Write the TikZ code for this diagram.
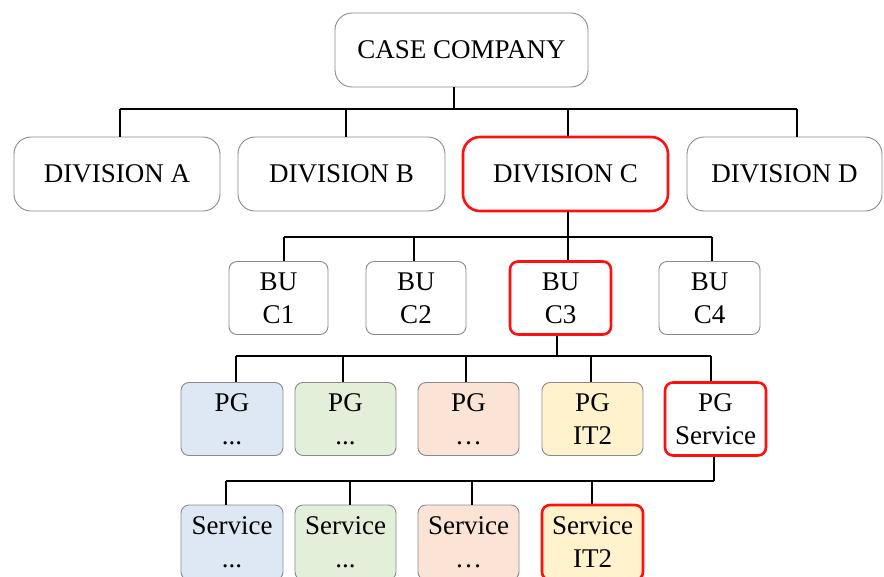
\documentclass[tikz,border=0pt]{standalone}
\usepackage{fontspec}
\setmainfont{Liberation Serif}
\begin{document}
\definecolor{boxgray}{HTML}{8A8A8A}
\definecolor{hlred}{HTML}{FF1010}
\definecolor{fblue}{HTML}{DEE8F4}
\definecolor{fgreen}{HTML}{E3EFD9}
\definecolor{fpeach}{HTML}{FBE4D5}
\definecolor{fyellow}{HTML}{FFF2CC}
\begin{tikzpicture}[x=1pt,y=-1pt,
  every node/.style={font=\fontsize{27}{33}\selectfont, align=center, inner sep=0pt},
  box/.style={draw=boxgray, line width=0.9pt, fill=white, rounded corners=#1},
  box/.default=8pt,
  big/.style={box=17pt, minimum height=74pt},
  small/.style={box=8pt, minimum height=73pt},
  hl/.style={draw=hlred, line width=2.6pt},
  link/.style={line width=2pt, black}]
\useasboundingbox (0,0) rectangle (884,576);

% top level
\node[big, minimum width=253pt] (top) at (461.5,50) {CASE COMPANY};

% divisions
\node[big, minimum width=206pt] (divA) at (117,174) {DIVISION A};
\node[big, minimum width=207pt] (divB) at (341.5,174) {DIVISION B};
\node[big, hl, minimum width=205pt] (divC) at (565.5,174) {DIVISION C};
\node[big, minimum width=195pt] (divD) at (784.5,174) {DIVISION D};

% business units
\node[small, minimum width=99pt] (bu1) at (278.5,298) {BU\\C1};
\node[small, minimum width=100pt] (bu2) at (416,298) {BU\\C2};
\node[small, hl, minimum width=101pt] (bu3) at (560.5,298) {BU\\C3};
\node[small, minimum width=101pt] (bu4) at (709.5,298) {BU\\C4};

% product groups
\node[small, fill=fblue, minimum width=102pt] (pg1) at (232,419) {PG\\...};
\node[small, fill=fgreen, minimum width=101pt] (pg2) at (345.5,419) {PG\\...};
\node[small, fill=fpeach, minimum width=101pt] (pg3) at (468.5,419) {PG\\…};
\node[small, fill=fyellow, minimum width=101pt] (pg4) at (592.5,419) {PG\\IT2};
\node[small, hl, minimum width=101pt] (pg5) at (715.5,419) {PG\\Service};

% services
\node[small, fill=fblue, minimum width=102pt, minimum height=75pt] (s1) at (232,542.5) {Service\\...};
\node[small, fill=fgreen, minimum width=101pt, minimum height=75pt] (s2) at (345.5,542.5) {Service\\...};
\node[small, fill=fpeach, minimum width=101pt, minimum height=75pt] (s3) at (468.5,542.5) {Service\\…};
\node[small, fill=fyellow, hl, minimum width=101pt, minimum height=75pt] (s4) at (592.5,542.5) {Service\\IT2};

% bus levels
\coordinate (b1) at (0,109);
\coordinate (b2) at (0,237);
\coordinate (b3) at (0,356);
\coordinate (b4) at (0,481);

% company -> divisions
\draw[link] ([xshift=-8pt]top.south) -- ([xshift=-8pt]top.south |- b1);
\draw[link] ([xshift=3pt]divA.north |- b1) -- ([xshift=12.5pt]divD.north |- b1);
\foreach \n/\dx in {divA/3, divB/4.5, divC/2.5, divD/12.5}
  \draw[link] ([xshift=\dx pt]\n.north |- b1) -- ([xshift=\dx pt]\n.north);

% division C -> business units
\draw[link] ([xshift=2pt]divC.south) -- ([xshift=2pt]divC.south |- b2);
\draw[link] ([xshift=5.5pt]bu1.north |- b2) -- ([xshift=2.5pt]bu4.north |- b2);
\foreach \n/\dx in {bu1/5.5, bu2/-2, bu3/7.5, bu4/2.5}
  \draw[link] ([xshift=\dx pt]\n.north |- b2) -- ([xshift=\dx pt]\n.north);

% BU C3 -> product groups
\draw[link] ([xshift=-3.5pt]bu3.south) -- ([xshift=-3.5pt]bu3.south |- b3);
\draw[link] ([xshift=4pt]pg1.north |- b3) -- ([xshift=-4.5pt]pg5.north |- b3);
\foreach \n/\dx in {pg1/4, pg2/-2.5, pg3/-2.5, pg4/-1.5, pg5/-4.5}
  \draw[link] ([xshift=\dx pt]\n.north |- b3) -- ([xshift=\dx pt]\n.north);

% PG Service -> services
\draw[link] ([xshift=-1.5pt]pg5.south) -- ([xshift=-1.5pt]pg5.south |- b4);
\draw[link] ([xshift=-6pt]s1.north |- b4) -- ([xshift=-1.5pt]pg5.south |- b4);
\foreach \n/\dx in {s1/-6, s2/4.5, s3/3.5, s4/-0.5}
  \draw[link] ([xshift=\dx pt]\n.north |- b4) -- ([xshift=\dx pt]\n.north);
\end{tikzpicture}
\end{document}
